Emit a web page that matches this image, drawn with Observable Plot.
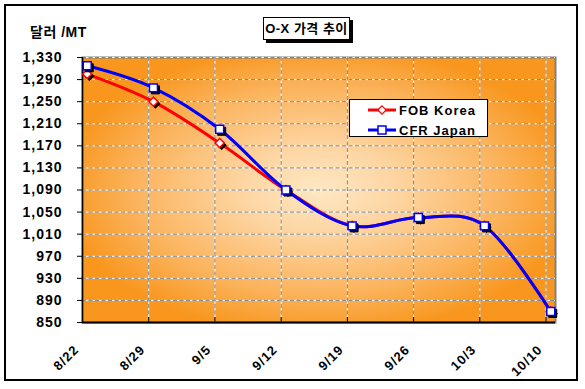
<!DOCTYPE html>
<html><head><meta charset="utf-8">
<script src="https://cdn.jsdelivr.net/npm/d3@7"></script>
<script src="https://cdn.jsdelivr.net/npm/@observablehq/plot@0.6"></script>
<style>
body{margin:0;background:#fff;}
#wrap{position:relative;width:585px;height:389px;overflow:hidden;font-family:"Liberation Sans",Arial,"Noto Sans CJK KR",sans-serif;}
#wrap svg text{letter-spacing:1px;}
#frame{position:absolute;left:4px;top:4px;width:570px;height:373px;border:2px solid #000;pointer-events:none;}
#title{position:absolute;left:263px;top:17px;width:85px;height:21px;border:1px solid #000;background:#fff;box-shadow:3px 3px 0 #000;font-weight:bold;font-size:13px;line-height:21px;text-align:center;letter-spacing:0.5px;white-space:nowrap;}
#ytitle{position:absolute;left:30px;top:23px;font-weight:bold;font-size:14px;line-height:18px;letter-spacing:0.5px;white-space:nowrap;}
#legend{position:absolute;left:349px;top:99px;width:137px;height:36px;border:1px solid #000;background:#fff;}
#legend .row{position:absolute;left:18px;height:16px;display:flex;align-items:center;font-weight:bold;font-size:13px;letter-spacing:1px;white-space:nowrap;}
#legend svg{margin-right:3px;}
</style>
</head><body>
<div id="wrap">
  <div id="chart"></div>
  <div id="ytitle">달러 /MT</div>
  <div id="title">O-X 가격 추이</div>
  <div id="legend"></div>
  <div id="frame"></div>
</div>
<script>
// ---- data ----
const labels = ["8/22","8/29","9/5","9/12","9/19","9/26","10/3","10/10"];
const fobKorea = [1300,1250,1175,1090,1025,1040,1025,870];
const cfrJapan = [1315,1275,1200,1090,1025,1040,1025,870];
const yTicks = [850,890,930,970,1010,1050,1090,1130,1170,1210,1250,1290,1330];
const seriesNames = ["FOB Korea","CFR Japan"];
const seriesColors = ["#ff0000","#0000ff"];
const year = 2008;

const dates = labels.map(s => { const [m,d] = s.split("/").map(Number); return new Date(Date.UTC(year, m-1, d)); });
const mid = d => d3.utcHour.offset(d, 12);
const fobData = labels.map((l,i) => ({date: mid(dates[i]), value: fobKorea[i], series: seriesNames[0]}));
const cfrData = labels.map((l,i) => ({date: mid(dates[i]), value: cfrJapan[i], series: seriesNames[1]}));
const x0 = dates[0], x1 = d3.utcDay.offset(dates[dates.length-1], 1);

const tickShape = {draw(ctx, l){ ctx.moveTo(0,0); ctx.lineTo(0,-l); }};

function seriesMarks(data, symbol, r, color){
  return [
    Plot.line(data, {x:"date", y:"value", stroke: color, strokeWidth:3, curve:"cardinal"}),
    Plot.dot(data, {x:"date", y:"value", symbol, r, fill:"#000", stroke:"#000", strokeWidth:1, dx:2, dy:2}),
    Plot.dot(data, {x:"date", y:"value", symbol, r, fill:"#fff", stroke: color, strokeWidth:1.5})
  ];
}

const chart = Plot.plot({
  width:585, height:389,
  marginLeft:82, marginRight:30, marginTop:57, marginBottom:67,
  style:{fontFamily:"Liberation Sans, Arial, sans-serif", fontSize:"14px", fontWeight:"bold", color:"#000", background:"transparent", overflow:"visible"},
  x:{type:"utc", domain:[x0, x1], axis:null},
  y:{domain:[yTicks[0], yTicks[yTicks.length-1]]},
  marks:[
    Plot.frame({fill:"url(#plotbg)", stroke:"#808080", strokeWidth:2}),
    Plot.ruleY(yTicks, {stroke:"#fff", strokeWidth:1}),
    Plot.ruleY(yTicks, {stroke:"#808080", strokeWidth:1, strokeDasharray:"4,2.5"}),
    Plot.ruleX(dates.slice(1), {stroke:"#fff", strokeWidth:1}),
    Plot.ruleX(dates.slice(1), {stroke:"#808080", strokeWidth:1, strokeDasharray:"4,2.5"}),
    Plot.ruleX([x0], {stroke:"#000", strokeWidth:1.5}),
    Plot.ruleY([yTicks[0]], {stroke:"#000", strokeWidth:2}),
    Plot.vector(dates, {x:d=>d, frameAnchor:"bottom", length:5, rotate:0, anchor:"start", shape:tickShape, stroke:"#000", strokeWidth:1}),
    Plot.axisY({ticks:yTicks, tickSize:5, tickPadding:15, tickFormat:d3.format(","), label:null, fontSize:14, stroke:"#000"}),
    Plot.text(labels, {x:(d,i)=>dates[i], text:d=>d, frameAnchor:"bottom", rotate:-45, textAnchor:"end", lineAnchor:"bottom", dx:-3, dy:28, fontSize:13, fill:"#000"}),
    ...seriesMarks(fobData, "diamond2", 4.1, seriesColors[0]),
    ...seriesMarks(cfrData, "square", 4.5, seriesColors[1])
  ]
});

const ns = "http://www.w3.org/2000/svg";
const defs = document.createElementNS(ns, "defs");
defs.innerHTML = `<radialGradient id="plotbg" cx="50%" cy="50%" r="55%">
  <stop offset="0" stop-color="#fee8c4"/>
  <stop offset="0.3" stop-color="#fdd5a2"/>
  <stop offset="0.7" stop-color="#fbb45e"/>
  <stop offset="1" stop-color="#f8961d"/>
</radialGradient>`;
chart.insertBefore(defs, chart.firstChild);
document.getElementById("chart").appendChild(chart);

// legend
const legend = document.getElementById("legend");
const syms = [
  `<path d="M14 0.8 L18.2 5 L14 9.2 L9.8 5Z" fill="#fff" stroke="${seriesColors[0]}" stroke-width="1.2"/>`,
  `<rect x="10" y="1" width="8" height="8" fill="#fff" stroke="${seriesColors[1]}" stroke-width="1.5"/>`
];
seriesNames.forEach((name, i) => {
  const row = document.createElement("div");
  row.className = "row";
  row.style.top = (2 + i*20) + "px";
  row.innerHTML = `<svg width="28" height="10"><line x1="0" y1="5" x2="28" y2="5" stroke="${seriesColors[i]}" stroke-width="3"/>${syms[i]}</svg><span>${name}</span>`;
  legend.appendChild(row);
});
</script>
</body></html>
